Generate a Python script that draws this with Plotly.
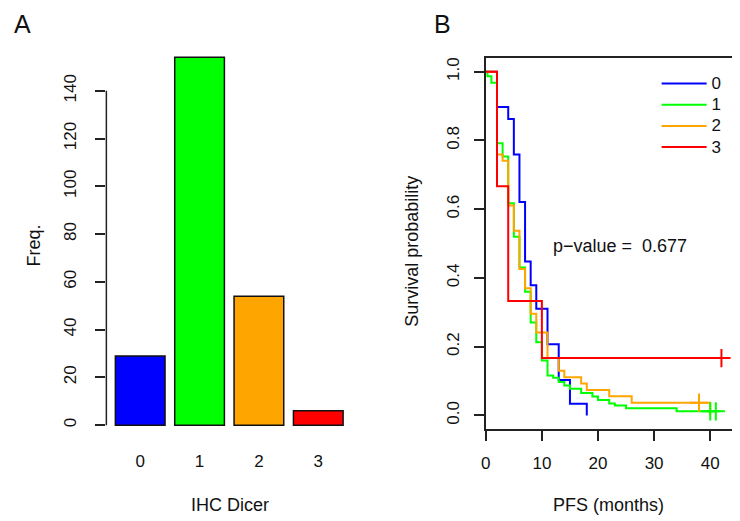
import plotly.graph_objects as go

# ---------------- data ----------------
# Panel A: frequency of IHC Dicer scores
dicer_cats = ["0", "1", "2", "3"]
dicer_freq = [29, 154, 54, 6]
bar_colors = ["#0000FF", "#00FF00", "#FFA500", "#FF0000"]

# Panel B: Kaplan-Meier step curves (time in months, survival probability)
blue_t = [0, 2, 4, 5, 6, 7, 8, 9, 11, 13, 15, 18]
blue_s = [1, 0.897, 0.862, 0.759, 0.621, 0.448, 0.379, 0.310, 0.207, 0.103, 0.034, 0]

green_t = [0, 0.3, 1, 2, 3, 4, 5, 6, 7, 8, 9, 10, 11, 12, 13, 14, 15, 17, 19, 20, 22, 23, 25, 34, 41]
green_s = [1, 0.987, 0.968, 0.792, 0.753, 0.617, 0.52, 0.43, 0.36, 0.27, 0.213, 0.16, 0.116, 0.11,
           0.097, 0.087, 0.078, 0.065, 0.055, 0.045, 0.035, 0.029, 0.021, 0.012, 0.012]

orange_t = [0, 2, 3, 4, 5, 6, 7, 8, 9, 11, 13, 14, 17, 18, 22, 26, 40]
orange_s = [1, 0.759, 0.741, 0.611, 0.537, 0.426, 0.370, 0.296, 0.241, 0.167, 0.130, 0.111,
            0.093, 0.074, 0.056, 0.037, 0]

red_t = [0, 2, 4, 10, 42]
red_s = [1, 0.667, 0.333, 0.167, 0.167]

# censored observations
green_cens_t = [40, 41]
green_cens_s = [0.012, 0.012]
orange_cens_t = [38]
orange_cens_s = [0.037]
red_cens_t = [42]
red_cens_s = [0.167]

strata_labels = ["0", "1", "2", "3"]
curve_colors = ["#0000FF", "#00FF00", "#FFA500", "#FF0000"]
p_value_text = "p\u2212value =  0.677"

x_ticks_b = [0, 10, 20, 30, 40]
y_ticks_b = [0.0, 0.2, 0.4, 0.6, 0.8, 1.0]
y_ticks_a = [0, 20, 40, 60, 80, 100, 120, 140]

# ---------------- figure ----------------
W, H = 740, 521
OFF = 8  # page body margin offset
FONT = "Liberation Sans, Arial, Helvetica, sans-serif"
def px_x(p):
    return (p - OFF) / W
def px_y(p):
    return 1 - (p - OFF) / H

fig = go.Figure()

# Panel A bars
fig.add_trace(go.Bar(
    x=list(range(len(dicer_cats))), y=dicer_freq, width=0.837,
    marker=dict(color=bar_colors, line=dict(color="#111111", width=1.5)),
    xaxis="x", yaxis="y", showlegend=False, hoverinfo="skip"))

# Panel B KM curves
curves = [(blue_t, blue_s), (green_t, green_s), (orange_t, orange_s), (red_t, red_s)]
for (t, s), lab, col in zip(curves, strata_labels, curve_colors):
    fig.add_trace(go.Scatter(x=t, y=s, mode="lines", line=dict(color=col, width=2, shape="hv"),
                             name="<span style='font-size:17px'>%s</span>" % lab,
                             xaxis="x2", yaxis="y2", showlegend=True))

cens = [(green_cens_t, green_cens_s, curve_colors[1]),
        (orange_cens_t, orange_cens_s, curve_colors[2]),
        (red_cens_t, red_cens_s, curve_colors[3])]
for ct, cs, col in cens:
    fig.add_trace(go.Scatter(x=ct, y=cs, mode="markers",
                             marker=dict(symbol="cross-thin", size=13, line=dict(color=col, width=2)),
                             xaxis="x2", yaxis="y2", showlegend=False, hoverinfo="skip"))

axis_font = dict(family=FONT, size=17, color="#111111")

# Panel A axes
A_LEFT, A_RIGHT = 102, 349.4
fig.update_layout(
    xaxis=dict(domain=[px_x(A_LEFT), px_x(A_RIGHT)], range=[-0.57, 3.57],
               tickvals=list(range(len(dicer_cats))), ticktext=dicer_cats,
               showline=False, showgrid=False, zeroline=False, ticks="",
               tickfont=axis_font, ticklabelstandoff=9, anchor="y", fixedrange=True),
    yaxis=dict(domain=[px_y(439.7), px_y(41.7)], range=[-6.16, 160.16],
               tickvals=y_ticks_a, showline=False, showgrid=False, zeroline=False,
               ticks="outside", ticklen=10, tickwidth=1.5, tickcolor="#222222",
               tickangle=-90, tickfont=axis_font, ticklabelstandoff=13, anchor="x"),
    xaxis2=dict(domain=[px_x(484), px_x(732)], range=[0, 43.9],
                tickvals=x_ticks_b, showline=True, mirror=True, linecolor="#222222", linewidth=1.5,
                showgrid=False, zeroline=False, ticks="outside", ticklen=10, tickwidth=1.5,
                tickcolor="#222222", tickfont=axis_font, ticklabelstandoff=8, anchor="y2"),
    yaxis2=dict(domain=[px_y(429), px_y(57)], range=[-0.04, 1.04],
                tickvals=y_ticks_b, tickformat=".1f", showline=True, mirror=True,
                linecolor="#222222", linewidth=1.5, showgrid=False, zeroline=False,
                ticks="outside", ticklen=10, tickwidth=1.5, tickcolor="#222222",
                tickangle=-90, tickfont=axis_font, ticklabelstandoff=8, anchor="x2"),
)

# Panel A y axis line (spans tick range only, like R)
fig.add_shape(type="line", xref="paper", yref="y", x0=px_x(A_LEFT), x1=px_x(A_LEFT),
              y0=y_ticks_a[0], y1=y_ticks_a[-1], line=dict(color="#222222", width=1.5))

title_font = dict(family=FONT, size=18, color="#111111")
def ann(text, x, y, **kw):
    d = dict(text=text, x=x, y=y, xref="paper", yref="paper", showarrow=False,
             xanchor="center", yanchor="middle", font=title_font)
    d.update(kw)
    return d

annotations = [
    ann("A", px_x(18), px_y(23), font=dict(family=FONT, size=25, color="#111111")),
    ann("B", px_x(440), px_y(23), font=dict(family=FONT, size=25, color="#111111")),
    ann("IHC Dicer", px_x(226), px_y(505)),
    ann("Freq.", px_x(29), px_y(245), textangle=-90),
    ann("PFS (months)", px_x(608), px_y(505)),
    ann("Survival probability", px_x(409), px_y(251), textangle=-90),
    dict(text=p_value_text, x=23.9, y=0.494, xref="x2", yref="y2", showarrow=False,
         xanchor="center", yanchor="middle", font=title_font),
]
fig.update_layout(annotations=annotations)

fig.update_layout(
    width=W, height=H, margin=dict(l=0, r=0, t=0, b=0),
    paper_bgcolor="white", plot_bgcolor="white",
    font=dict(family=FONT, color="#111111"),
    legend=dict(x=px_x(656), y=px_y(67), xanchor="left", yanchor="top",
                bgcolor="rgba(0,0,0,0)", borderwidth=0, itemwidth=45,
                font=dict(family=FONT, size=14, color="#111111"), tracegroupgap=0),
)

fig.write_html("out.html")
